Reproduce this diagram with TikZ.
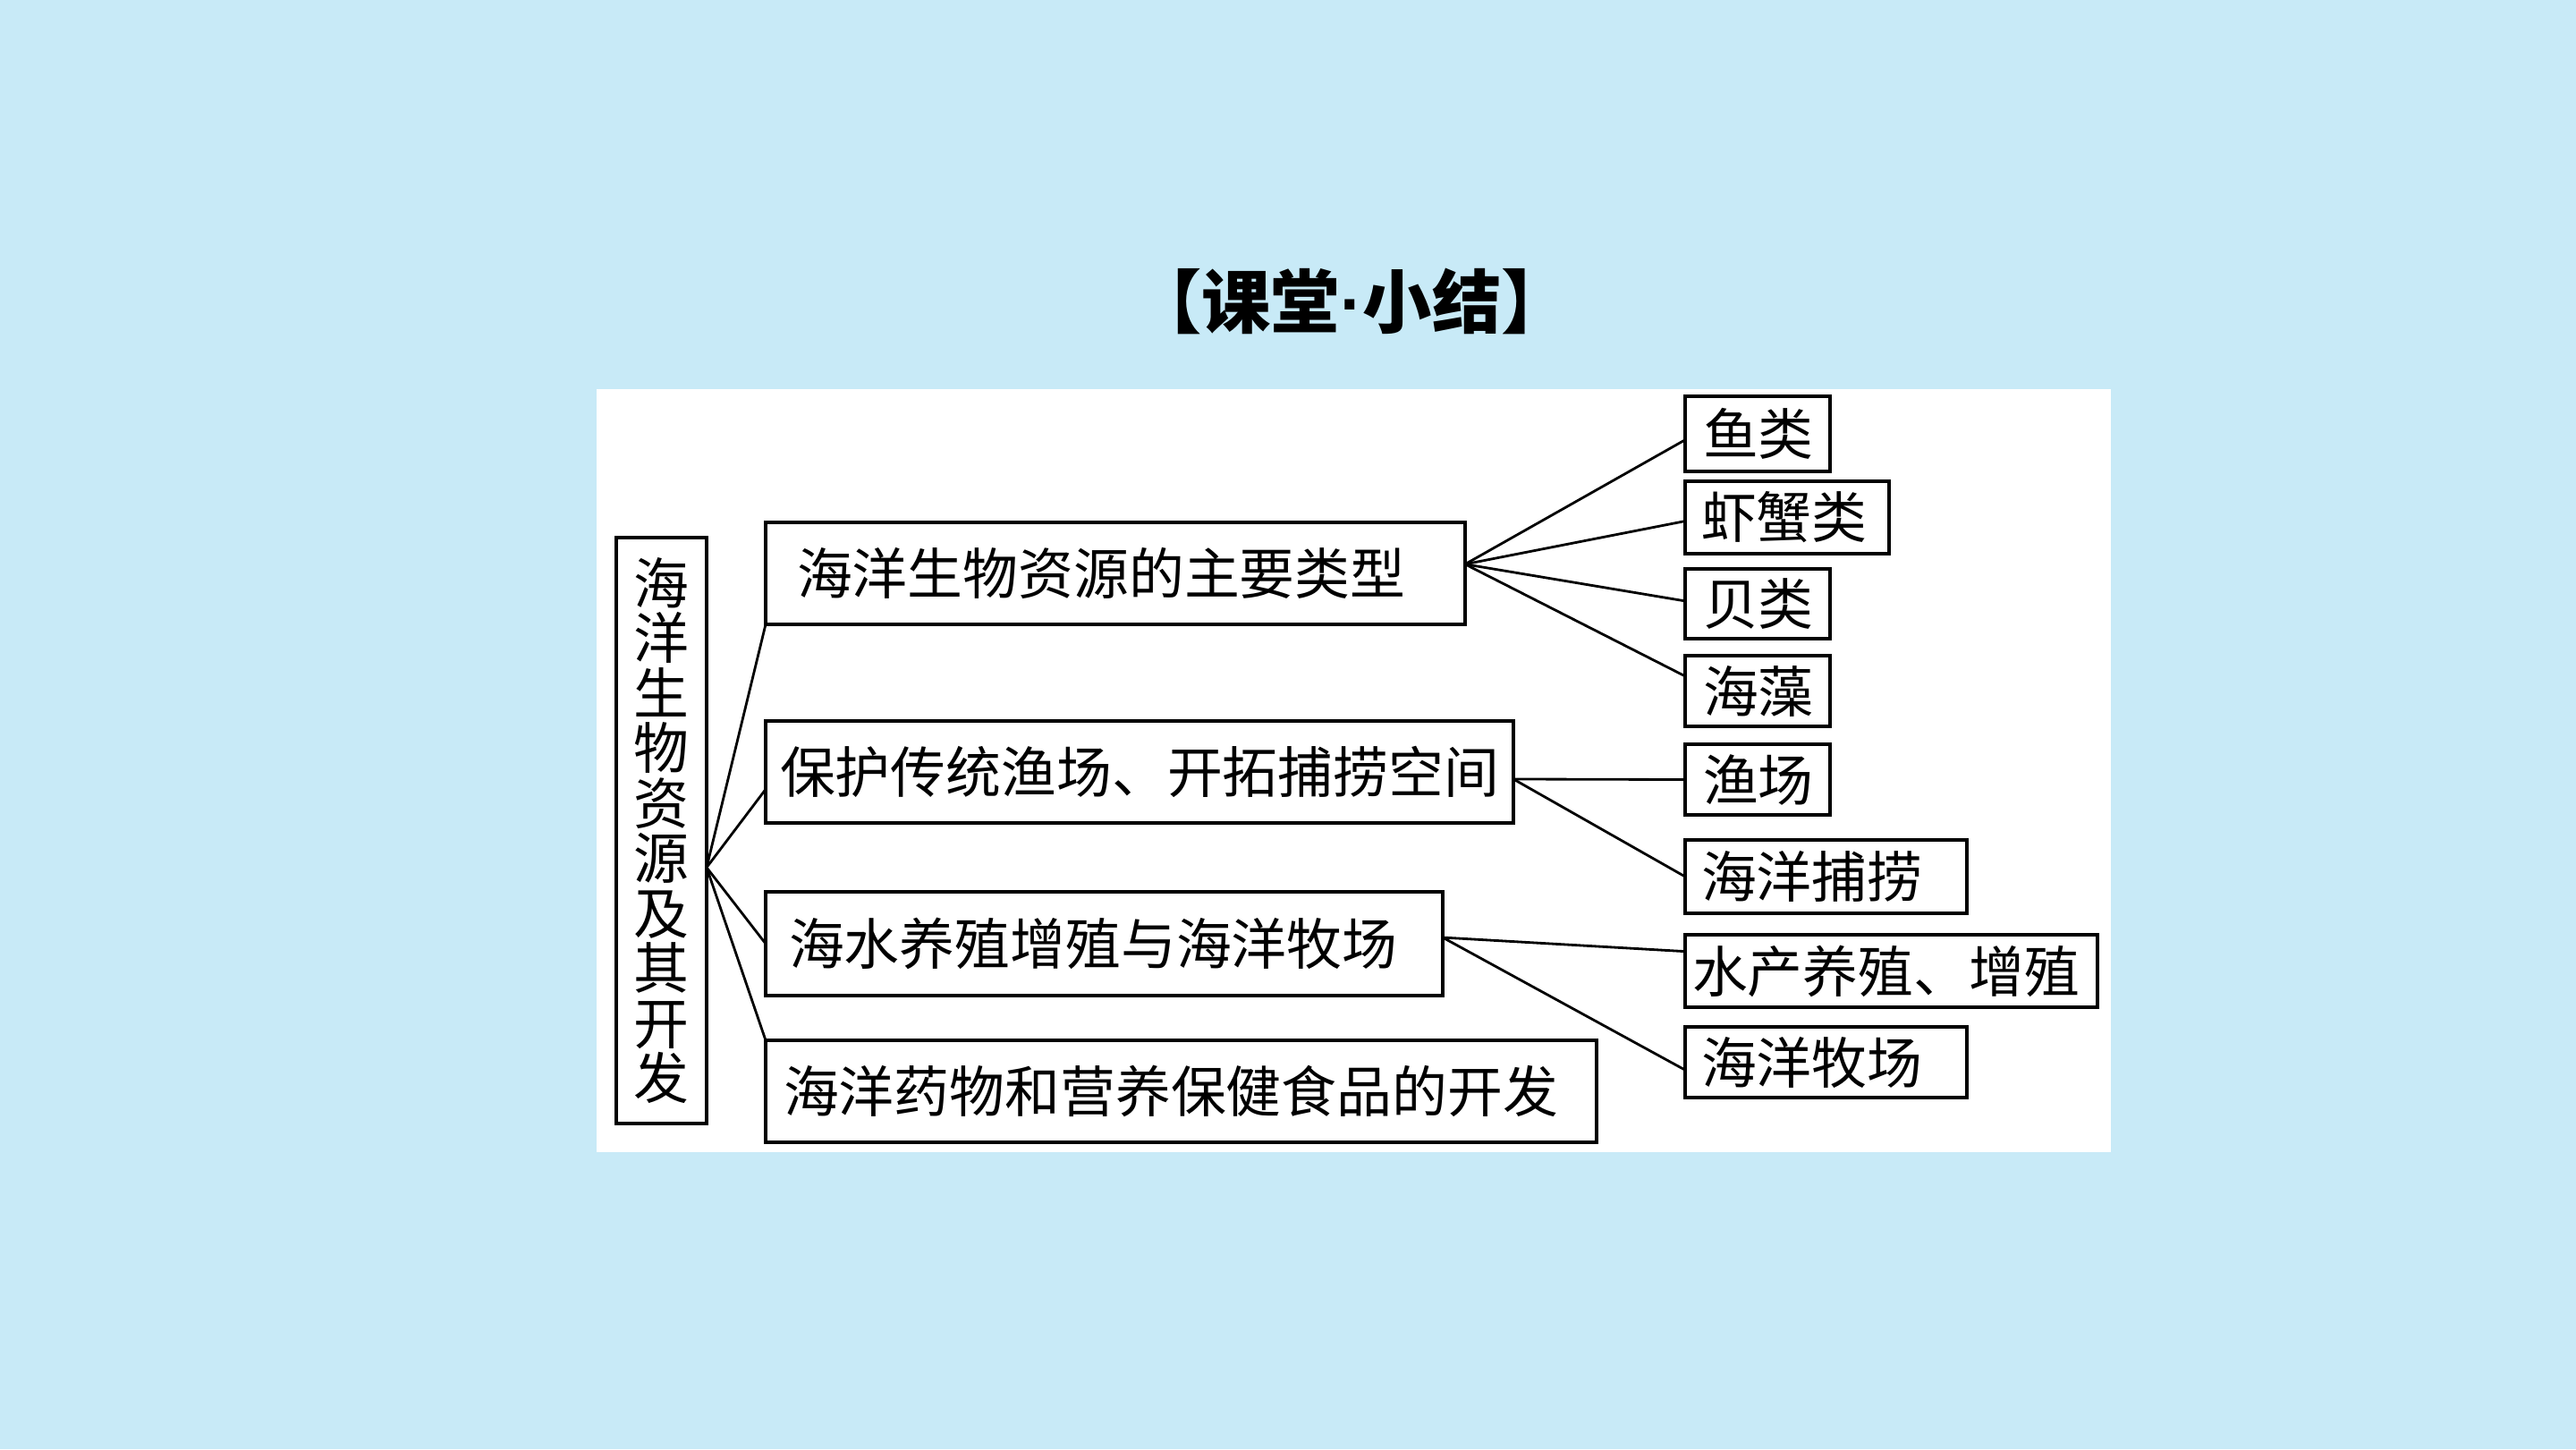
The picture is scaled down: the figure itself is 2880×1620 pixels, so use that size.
\documentclass[tikz,border=0pt]{standalone}
\usepackage{fontspec}
\setmainfont{Noto Sans CJK SC}
\newfontfamily\dotfont{Liberation Sans}
\usetikzlibrary{calc}
\definecolor{bgblue}{RGB}{200,234,247}
\begin{document}
\begin{tikzpicture}[x=0.1mm,y=-0.1mm,
  box/.style={draw=black, line width=1pt, fill=white, outer sep=0pt, inner ysep=0pt, align=left,
    font=\fontsize{17.6pt}{20pt}\selectfont},
  vbox/.style={draw=black, line width=1pt, fill=white, outer sep=0pt, inner sep=0pt, align=center,
    font=\fontsize{17.6pt}{17.5pt}\selectfont},
  link/.style={draw=black, line width=0.8pt, line cap=round}]
\fill[bgblue] (0,0) rectangle (2880,1620);
\useasboundingbox (0,0) rectangle (2880,1620);
\fill[white] (667,435) rectangle (2360,1288);
\node[font=\fontsize{22pt}{24pt}\selectfont\bfseries] (title) at (1511,337) {【课堂{\dotfont\bfseries ·}小结】};

% left vertical box
\node[vbox, text width=10.1mm, minimum height=65.5mm] (L) at (739.5,928.5)
  {海\\洋\\生\\物\\资\\源\\及\\其\\开\\发};

% middle boxes
\node[box, inner xsep=3.5mm, text width=71.2mm, minimum height=11.4mm] (B1) at (1247,641) {海洋生物资源的主要类型};
\node[box, inner xsep=1.6mm, text width=80.4mm, minimum height=11.4mm] (B2) at (1274,863) {保护传统渔场、开拓捕捞空间};
\node[box, inner xsep=2.6mm, text width=70.5mm, minimum height=11.6mm] (B3) at (1234.5,1055) {海水养殖增殖与海洋牧场};
\node[box, inner xsep=2.0mm, text width=88.9mm, minimum height=11.4mm] (B4) at (1320.5,1220) {海洋药物和营养保健食品的开发};

% right boxes
\node[box, inner xsep=2.0mm, text width=12.2mm, minimum height=8.4mm] (R1) at (1965,485) {鱼类};
\node[box, inner xsep=1.8mm, text width=19.2mm, minimum height=8.1mm] (R2) at (1998,578.5) {虾蟹类};
\node[box, inner xsep=2.0mm, text width=12.2mm, minimum height=7.8mm] (R3) at (1965,675) {贝类};
\node[box, inner xsep=2.0mm, text width=12.2mm, minimum height=7.9mm] (R4) at (1965,772.5) {海藻};
\node[box, inner xsep=2.0mm, text width=12.2mm, minimum height=7.9mm] (R5) at (1965,871.5) {渔场};
\node[box, inner xsep=1.8mm, text width=27.9mm, minimum height=8.2mm] (R6) at (2041.5,980) {海洋捕捞};
\node[box, inner xsep=0.8mm, text width=44.5mm, minimum height=8.1mm] (R7) at (2114.5,1085.5) {水产养殖、增殖};
\node[box, inner xsep=1.8mm, text width=27.9mm, minimum height=7.9mm] (R8) at (2041.5,1187.5) {海洋牧场};

% fan points
\coordinate (Lf) at ($(L.north east)!0.563!(L.south east)$);
\coordinate (B1f) at ($(B1.north east)!0.41!(B1.south east)$);
\coordinate (B2f) at ($(B2.north east)!0.57!(B2.south east)$);
\coordinate (B3f) at ($(B3.north east)!0.44!(B3.south east)$);

% connectors from left box
\draw[link] (Lf) -- (B1.south west);
\draw[link] (Lf) -- ($(B2.north west)!0.67!(B2.south west)$);
\draw[link] (Lf) -- (B3.west);
\draw[link] (Lf) -- (B4.north west);

% connectors from B1
\draw[link] (B1f) -- ($(R1.north west)!0.58!(R1.south west)$);
\draw[link] (B1f) -- ($(R2.north west)!0.55!(R2.south west)$);
\draw[link] (B1f) -- ($(R3.north west)!0.46!(R3.south west)$);
\draw[link] (B1f) -- ($(R4.north west)!0.29!(R4.south west)$);

% connectors from B2
\draw[link] (B2f) -- (R5.west);
\draw[link] (B2f) -- (R6.west);

% connectors from B3
\draw[link] (B3f) -- ($(R7.north west)!0.23!(R7.south west)$);
\draw[link] (B3f) -- ($(R8.north west)!0.61!(R8.south west)$);
\end{tikzpicture}
\end{document}
